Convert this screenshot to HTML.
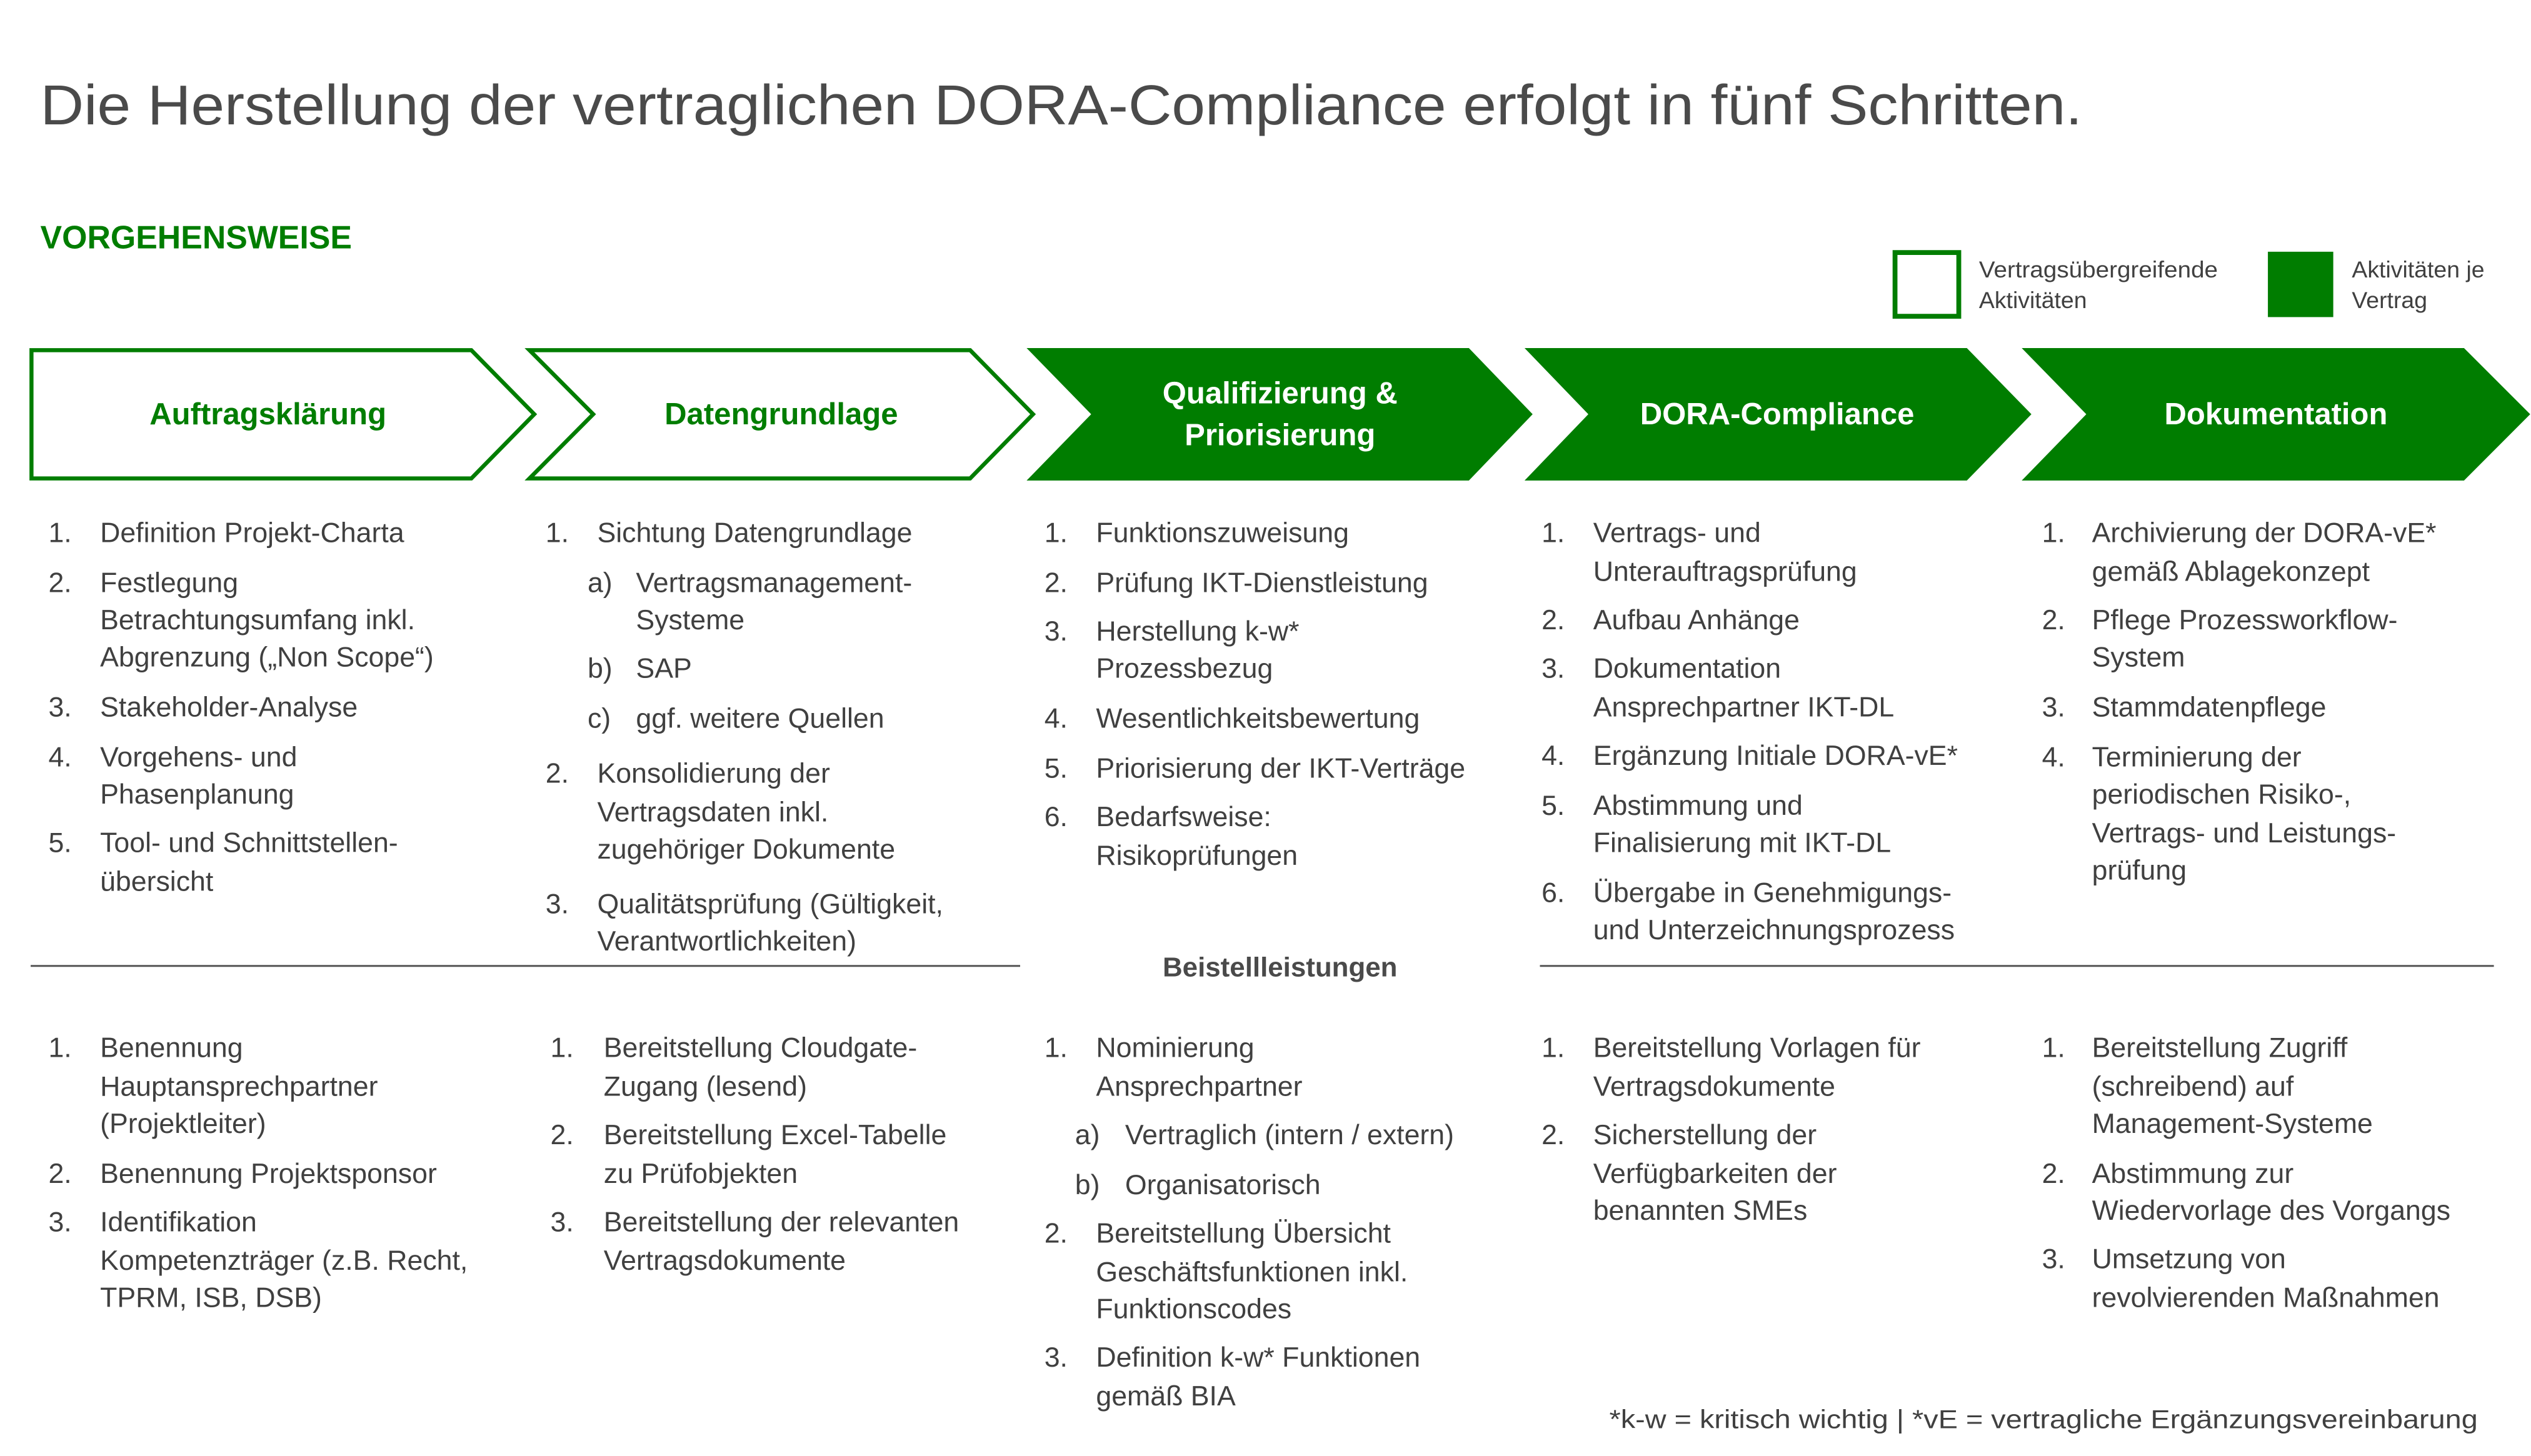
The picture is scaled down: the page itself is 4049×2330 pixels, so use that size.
<!DOCTYPE html>
<html><head><meta charset="utf-8">
<style>
html,body{margin:0;padding:0;background:#fff;}
svg{display:block;}
text{font-family:"Liberation Sans",sans-serif;}
.t{font-size:17.3px;fill:#404040;}
</style></head>
<body>
<svg width="4049" height="2330" viewBox="0 0 1568 902.3" xmlns="http://www.w3.org/2000/svg">
<rect width="1568" height="902.3" fill="#fff"/>
<text x="25" y="77" font-size="35" fill="#4a4a4a" textLength="1265" lengthAdjust="spacingAndGlyphs">Die Herstellung der vertraglichen DORA-Compliance erfolgt in fünf Schritten.</text>
<text x="25" y="154" font-size="20" font-weight="bold" fill="#007d00" textLength="193" lengthAdjust="spacingAndGlyphs">VORGEHENSWEISE</text>

<rect x="1174" y="156.5" width="39.5" height="39.5" fill="none" stroke="#007d00" stroke-width="3"/>
<text x="1226" y="172" font-size="14.5" fill="#404040" textLength="148" lengthAdjust="spacingAndGlyphs">Vertragsübergreifende</text>
<text x="1226" y="191" font-size="14.5" fill="#404040">Aktivitäten</text>
<rect x="1405" y="156" width="40.5" height="40.5" fill="#007d00"/>
<text x="1457" y="172" font-size="14.5" fill="#404040">Aktivitäten je</text>
<text x="1457" y="191" font-size="14.5" fill="#404040">Vertrag</text>

<polygon points="19.5,217 292,217 331,256.7 292,296.5 19.5,296.5" fill="#fff" stroke="#007d00" stroke-width="2.5"/>
<polygon points="328,217 601,217 640,256.7 601,296.5 328,296.5 367.5,256.7" fill="#fff" stroke="#007d00" stroke-width="2.5"/>
<polygon points="636,215.7 910,215.7 949.5,256.7 910,297.8 636,297.8 676,256.7" fill="#007d00"/>
<polygon points="944.5,215.7 1218.5,215.7 1258.5,256.7 1218.5,297.8 944.5,297.8 984,256.7" fill="#007d00"/>
<polygon points="1252.5,215.7 1526.5,215.7 1567.5,256.7 1526.5,297.8 1252.5,297.8 1292.5,256.7" fill="#007d00"/>
<g font-size="19" font-weight="bold" text-anchor="middle">
<text x="166" y="263" fill="#007d00">Auftragsklärung</text>
<text x="484" y="263" fill="#007d00">Datengrundlage</text>
<text x="793" y="250" fill="#fff">Qualifizierung &amp;</text>
<text x="793" y="276" fill="#fff">Priorisierung</text>
<text x="1101" y="263" fill="#fff">DORA-Compliance</text>
<text x="1410" y="263" fill="#fff">Dokumentation</text>
</g>

<g class="t">
<text x="30" y="336">1.</text><text x="62" y="336">Definition Projekt-Charta</text>
<text x="30" y="367">2.</text><text x="62" y="367">Festlegung</text>
<text x="62" y="390">Betrachtungsumfang inkl.</text>
<text x="62" y="413">Abgrenzung („Non Scope“)</text>
<text x="30" y="444">3.</text><text x="62" y="444">Stakeholder-Analyse</text>
<text x="30" y="475">4.</text><text x="62" y="475">Vorgehens- und</text>
<text x="62" y="498">Phasenplanung</text>
<text x="30" y="528">5.</text><text x="62" y="528">Tool- und Schnittstellen-</text>
<text x="62" y="552">übersicht</text>

<text x="338" y="336">1.</text><text x="370" y="336">Sichtung Datengrundlage</text>
<text x="364" y="367">a)</text><text x="394" y="367">Vertragsmanagement-</text>
<text x="394" y="390">Systeme</text>
<text x="364" y="420">b)</text><text x="394" y="420">SAP</text>
<text x="364" y="451">c)</text><text x="394" y="451">ggf. weitere Quellen</text>
<text x="338" y="485">2.</text><text x="370" y="485">Konsolidierung der</text>
<text x="370" y="509">Vertragsdaten inkl.</text>
<text x="370" y="532">zugehöriger Dokumente</text>
<text x="338" y="566">3.</text><text x="370" y="566">Qualitätsprüfung (Gültigkeit,</text>
<text x="370" y="589">Verantwortlichkeiten)</text>

<text x="647" y="336">1.</text><text x="679" y="336">Funktionszuweisung</text>
<text x="647" y="367">2.</text><text x="679" y="367">Prüfung IKT-Dienstleistung</text>
<text x="647" y="397">3.</text><text x="679" y="397">Herstellung k-w*</text>
<text x="679" y="420">Prozessbezug</text>
<text x="647" y="451">4.</text><text x="679" y="451">Wesentlichkeitsbewertung</text>
<text x="647" y="482">5.</text><text x="679" y="482">Priorisierung der IKT-Verträge</text>
<text x="647" y="512">6.</text><text x="679" y="512">Bedarfsweise:</text>
<text x="679" y="536">Risikoprüfungen</text>

<text x="955" y="336">1.</text><text x="987" y="336">Vertrags- und</text>
<text x="987" y="360">Unterauftragsprüfung</text>
<text x="955" y="390">2.</text><text x="987" y="390">Aufbau Anhänge</text>
<text x="955" y="420">3.</text><text x="987" y="420">Dokumentation</text>
<text x="987" y="444">Ansprechpartner IKT-DL</text>
<text x="955" y="474">4.</text><text x="987" y="474">Ergänzung Initiale DORA-vE*</text>
<text x="955" y="505">5.</text><text x="987" y="505">Abstimmung und</text>
<text x="987" y="528">Finalisierung mit IKT-DL</text>
<text x="955" y="559">6.</text><text x="987" y="559">Übergabe in Genehmigungs-</text>
<text x="987" y="582">und Unterzeichnungsprozess</text>

<text x="1265" y="336">1.</text><text x="1296" y="336">Archivierung der DORA-vE*</text>
<text x="1296" y="360">gemäß Ablagekonzept</text>
<text x="1265" y="390">2.</text><text x="1296" y="390">Pflege Prozessworkflow-</text>
<text x="1296" y="413">System</text>
<text x="1265" y="444">3.</text><text x="1296" y="444">Stammdatenpflege</text>
<text x="1265" y="475">4.</text><text x="1296" y="475">Terminierung der</text>
<text x="1296" y="498">periodischen Risiko-,</text>
<text x="1296" y="522">Vertrags- und Leistungs-</text>
<text x="1296" y="545">prüfung</text>

<text x="30" y="655">1.</text><text x="62" y="655">Benennung</text>
<text x="62" y="679">Hauptansprechpartner</text>
<text x="62" y="702">(Projektleiter)</text>
<text x="30" y="733">2.</text><text x="62" y="733">Benennung Projektsponsor</text>
<text x="30" y="763">3.</text><text x="62" y="763">Identifikation</text>
<text x="62" y="787">Kompetenzträger (z.B. Recht,</text>
<text x="62" y="810">TPRM, ISB, DSB)</text>

<text x="341" y="655">1.</text><text x="374" y="655">Bereitstellung Cloudgate-</text>
<text x="374" y="679">Zugang (lesend)</text>
<text x="341" y="709">2.</text><text x="374" y="709">Bereitstellung Excel-Tabelle</text>
<text x="374" y="733">zu Prüfobjekten</text>
<text x="341" y="763">3.</text><text x="374" y="763">Bereitstellung der relevanten</text>
<text x="374" y="787">Vertragsdokumente</text>

<text x="647" y="655">1.</text><text x="679" y="655">Nominierung</text>
<text x="679" y="679">Ansprechpartner</text>
<text x="666" y="709">a)</text><text x="697" y="709">Vertraglich (intern / extern)</text>
<text x="666" y="740">b)</text><text x="697" y="740">Organisatorisch</text>
<text x="647" y="770">2.</text><text x="679" y="770">Bereitstellung Übersicht</text>
<text x="679" y="794">Geschäftsfunktionen inkl.</text>
<text x="679" y="817">Funktionscodes</text>
<text x="647" y="847">3.</text><text x="679" y="847">Definition k-w* Funktionen</text>
<text x="679" y="871">gemäß BIA</text>

<text x="955" y="655">1.</text><text x="987" y="655">Bereitstellung Vorlagen für</text>
<text x="987" y="679">Vertragsdokumente</text>
<text x="955" y="709">2.</text><text x="987" y="709">Sicherstellung der</text>
<text x="987" y="733">Verfügbarkeiten der</text>
<text x="987" y="756">benannten SMEs</text>

<text x="1265" y="655">1.</text><text x="1296" y="655">Bereitstellung Zugriff</text>
<text x="1296" y="679">(schreibend) auf</text>
<text x="1296" y="702">Management-Systeme</text>
<text x="1265" y="733">2.</text><text x="1296" y="733">Abstimmung zur</text>
<text x="1296" y="756">Wiedervorlage des Vorgangs</text>
<text x="1265" y="786">3.</text><text x="1296" y="786">Umsetzung von</text>
<text x="1296" y="810">revolvierenden Maßnahmen</text>
</g>

<line x1="19" y1="598.6" x2="632" y2="598.6" stroke="#555" stroke-width="1.2"/>
<line x1="954" y1="598.6" x2="1545" y2="598.6" stroke="#555" stroke-width="1.2"/>
<text x="793" y="605" font-size="17" font-weight="bold" fill="#4a4a4a" text-anchor="middle">Beistellleistungen</text>

<text x="997" y="885" font-size="16" fill="#404040" textLength="538" lengthAdjust="spacingAndGlyphs">*k-w = kritisch wichtig  | *vE = vertragliche Ergänzungsvereinbarung</text>
</svg>
</body></html>
